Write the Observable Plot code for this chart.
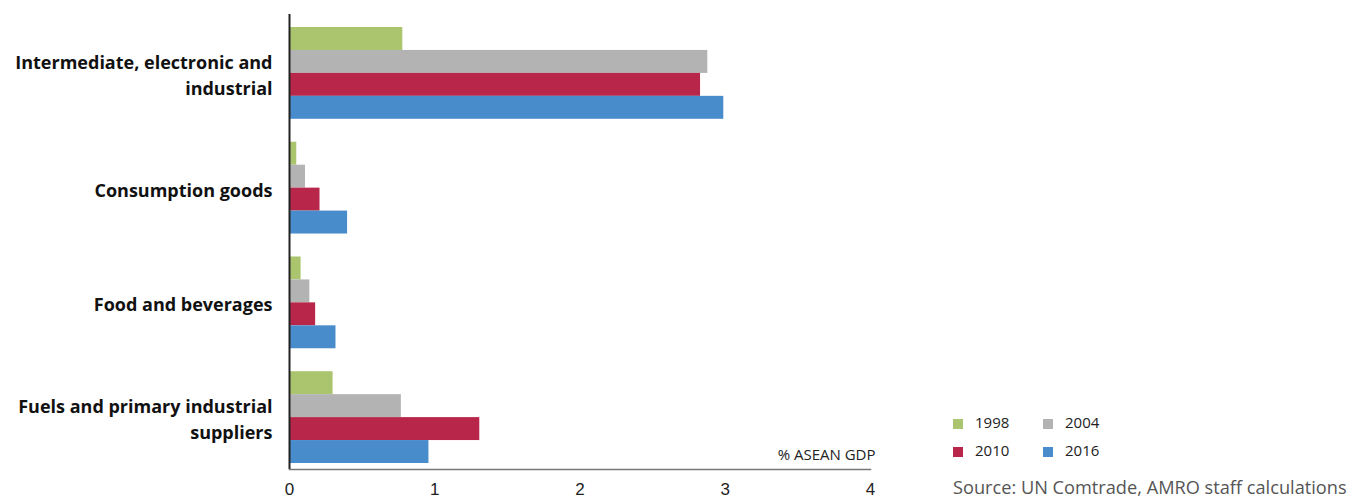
<!DOCTYPE html>
<html>
<head>
<meta charset="utf-8">
<script src="https://cdn.jsdelivr.net/npm/d3@7"></script>
<script src="https://cdn.jsdelivr.net/npm/@observablehq/plot@0.6"></script>
<style>
  body { margin: 0; background: #fff; }
  #wrap { position: relative; width: 1365px; height: 500px; font-family: "Open Sans", sans-serif; }
  #legend { position: absolute; left: 953px; top: 412px; font-size: 15px; color: #222; }
  .item { position: absolute; white-space: nowrap; }
  .sw { display: inline-block; width: 10px; height: 10px; margin-right: 12px; vertical-align: -1px; }
  #source { position: absolute; left: 953px; top: 475px; font-size: 18.2px; color: #555; white-space: nowrap; }
</style>
</head>
<body>
<div id="wrap"><div id="chart"></div><div id="legend"></div><div id="source"></div></div>
<script>
const categories = [
  "Intermediate, electronic and industrial",
  "Consumption goods",
  "Food and beverages",
  "Fuels and primary industrial suppliers"
];
const categoryLabels = [
  "Intermediate, electronic and\nindustrial",
  "Consumption goods",
  "Food and beverages",
  "Fuels and primary industrial\nsuppliers"
];
const years = ["1998", "2004", "2010", "2016"];
const v1998 = [0.78, 0.05, 0.08, 0.30];
const v2004 = [2.88, 0.11, 0.14, 0.77];
const v2010 = [2.83, 0.21, 0.18, 1.31];
const v2016 = [2.99, 0.40, 0.32, 0.96];
const colors = ["#abc56e", "#b3b3b3", "#b8274a", "#488ccb"];
const xTicks = [0, 1, 2, 3, 4];
const unitLabel = "% ASEAN GDP";
const sourceText = "Source: UN Comtrade, AMRO staff calculations";

const series = [v1998, v2004, v2010, v2016];
const data = [];
categories.forEach((c, i) => years.forEach((y, j) => data.push({category: c, year: y, key: c + "|" + y, value: series[j][i]})));

const yDomain = [];
categories.forEach((c, i) => {
  if (i > 0) yDomain.push("gap" + i);
  years.forEach(y => yDomain.push(c + "|" + y));
});

const labelsData = categories.map((c, i) => ({key: c + "|2004", label: categoryLabels[i]}));

const chart = Plot.plot({
  width: 1365,
  height: 500,
  marginLeft: 289,
  marginRight: 495,
  marginTop: 14,
  marginBottom: 31,
  style: {fontFamily: "Open Sans, sans-serif", background: "#fff"},
  x: {domain: [0, 4], ticks: xTicks, tickSize: 0, tickPadding: 13, label: null, tickFormat: d => String(d)},
  y: {domain: yDomain, range: [27, 463], padding: 0, round: false, axis: null},
  color: {domain: years, range: colors},
  marks: [
    Plot.barX(data, {x: "value", y: "key", fill: "year"}),
    Plot.ruleX([0], {stroke: "#222", strokeWidth: 2}),
    Plot.frame({anchor: "bottom", stroke: "#777", strokeWidth: 1.5}),
    Plot.text(labelsData, {y: "key", text: "label", frameAnchor: "left", dx: -17, dy: 11.5, textAnchor: "end", fontWeight: "bold", fontSize: 18, lineHeight: 1.45, fill: "#111"}),
    Plot.text([unitLabel], {frameAnchor: "bottom-right", textAnchor: "end", lineAnchor: "bottom", dx: 5, dy: -10, fontSize: 15, fill: "#222"})
  ]
});
chart.querySelectorAll("g[aria-label='x-axis tick label']").forEach(g => {
  g.setAttribute("font-family", "Liberation Sans, Arial, sans-serif");
  g.setAttribute("font-size", "17");
  g.setAttribute("fill", "#222");
});
document.getElementById("chart").appendChild(chart);

const legend = document.getElementById("legend");
const pos = [[0, 0], [90, 0], [0, 28], [90, 28]];
years.forEach((y, i) => {
  const d = document.createElement("div");
  d.className = "item";
  d.style.left = pos[i][0] + "px";
  d.style.top = pos[i][1] + "px";
  d.innerHTML = `<span class="sw" style="background:${colors[i]}"></span>${y}`;
  legend.appendChild(d);
});
document.getElementById("source").textContent = sourceText;
</script>
</body>
</html>
